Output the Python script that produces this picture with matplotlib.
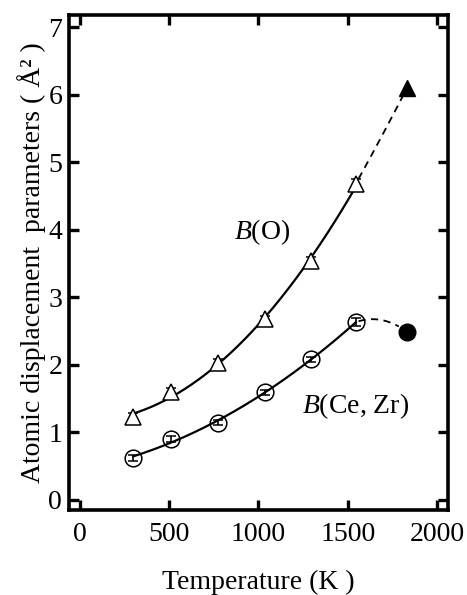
import numpy as np
import matplotlib

matplotlib.use("Agg")
import matplotlib.pyplot as plt

# open symbols: measured points on the solid fits
temps = [300, 510, 773, 1035, 1295, 1545]
b_oxygen = [1.22, 1.60, 2.03, 2.67, 3.53, 4.68]
b_oxygen_err = [0.06, 0.06, 0.05, 0.05, 0.06, 0.07]
b_cation = [0.62, 0.90, 1.14, 1.59, 2.08, 2.63]
b_cation_err = [0.04, 0.04, 0.04, 0.04, 0.04, 0.06]

# filled symbols: highest temperature
temp_high = [1830]
b_oxygen_high = [6.09]
b_cation_high = [2.49]

x_ticks = [0, 500, 1000, 1500, 2000]
y_ticks = [0, 1, 2, 3, 4, 5, 6, 7]

plt.rcParams["font.family"] = ["Liberation Serif", "DejaVu Serif"]
plt.rcParams["mathtext.fontset"] = "custom"
plt.rcParams["mathtext.rm"] = "Liberation Serif"
plt.rcParams["mathtext.it"] = "Liberation Serif:italic"

fig = plt.figure(figsize=(4.67, 5.95), dpi=100)
ax = fig.add_axes([0.148, 0.143, 0.811, 0.832])


def fit_curve(xs, ys, x_from, x_to, deg=2):
    coeffs = np.polyfit(xs, ys, deg)
    grid = np.linspace(x_from, x_to, 200)
    return grid, np.polyval(coeffs, grid)


# solid fits through the open points
gx, gy = fit_curve(temps, b_oxygen, temps[0], temps[-1])
ax.plot(gx, gy, color="black", lw=1.6)
gx, gy = fit_curve(temps, b_cation, temps[0], temps[-1])
ax.plot(gx, gy, color="black", lw=1.6)

# dashed extensions to the filled points
gx, gy = fit_curve(temps[-2:] + temp_high, b_oxygen[-2:] + b_oxygen_high,
                   temps[-1] + 15, temp_high[0] - 10)
ax.plot(gx, gy, color="black", lw=1.3, ls=(0, (4, 3)))
gx, gy = fit_curve(temps[-2:] + temp_high, b_cation[-2:] + b_cation_high,
                   temps[-1] + 15, temp_high[0] - 45)
ax.plot(gx, gy, color="black", lw=1.3, ls=(0, (4, 3)))

ax.errorbar(temps, b_oxygen, yerr=b_oxygen_err, fmt="^", ms=12, mfc="white",
            mec="black", mew=1.1, ecolor="black", elinewidth=1.2, capsize=3.5)
ax.errorbar(temps, b_cation, yerr=b_cation_err, fmt="o", ms=12, mfc="none",
            mec="black", mew=1.1, ecolor="black", elinewidth=1.2, capsize=3.5)
ax.plot(temp_high, b_oxygen_high, "^", ms=12, color="black")
ax.plot(temp_high, b_cation_high, "o", ms=12, color="black")

ax.text(1020, 3.97, "$\\it{B}$(O)", fontsize=20, ha="center", va="center")
ax.text(1545, 1.38, "$\\it{B}$(Ce, Zr)", fontsize=20, ha="center", va="center")

ax.set_xlim(-60, 2060)
ax.set_ylim(-0.15, 7.18)
ax.set_xticks(x_ticks)
ax.set_yticks(y_ticks)
ax.tick_params(direction="in", length=7, width=2.4, labelsize=20,
               top=True, right=True)
ax.tick_params(axis="x", pad=9)
ax.tick_params(axis="y", pad=5)
for spine in ax.spines.values():
    spine.set_linewidth(2.6)

ax.set_xlabel("Temperature (K )", fontsize=20, labelpad=16)
ax.set_ylabel("Atomic displacement  parameters ( Å² )", fontsize=20, labelpad=2)

fig.savefig("out.png", dpi=100)
